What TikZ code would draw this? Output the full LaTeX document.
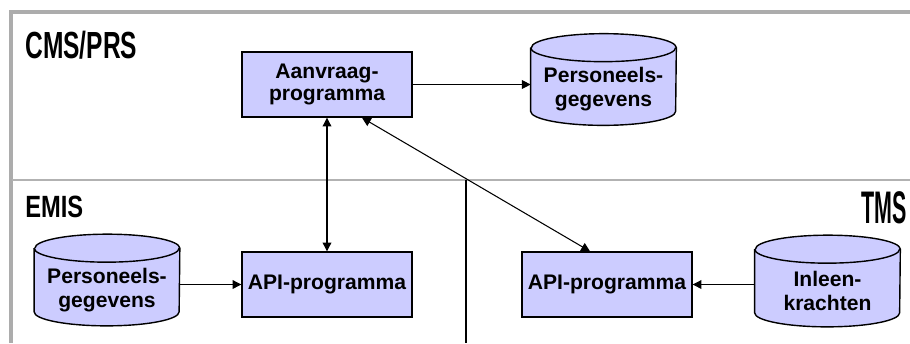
\documentclass[tikz,border=0pt]{standalone}
\usepackage{fontspec}
\setmainfont{Liberation Sans}
\usepackage{graphicx}
\usetikzlibrary{arrows.meta,backgrounds}
\definecolor{lila}{RGB}{204,204,255}
\newcommand{\smal}[2]{\scalebox{#1}[1]{#2}}
\newcommand{\zylinder}[1]{%
  \filldraw [fill=lila, line width=0.8pt] ([yshift=-0.28cm]#1.north west) -- ([yshift=0.68cm]#1.south west)
    arc [start angle=180, end angle=360, x radius=1.45cm, y radius=0.28cm]
    -- ([yshift=-0.28cm]#1.north east)
    arc [start angle=0, end angle=180, x radius=1.45cm, y radius=0.28cm];
  \draw [line width=0.8pt] ([yshift=-0.28cm]#1.north west)
    arc [start angle=180, end angle=360, x radius=1.45cm, y radius=0.28cm];}

\begin{document}
\begin{tikzpicture}[x=0.02cm, y=-0.02cm, >={Triangle[length=5pt,width=5pt]},
         prog/.style={draw, line width=0.8pt, fill=lila, minimum width=3.4cm, minimum height=1.3cm,
           inner sep=0pt, align=center, font=\bfseries\fontsize{12}{12.5}\selectfont},
         data/.style={minimum width=2.9cm, minimum height=2.22cm, inner sep=0pt, align=center,
           font=\bfseries\fontsize{12}{13.7}\selectfont},
         area/.style={anchor=base west, inner sep=0pt}]
         \useasboundingbox (0,0) rectangle (910,343);
         \draw [gray!65, line width=2.2pt] (11,343) -- (11,12) -- (910,12);
         \draw [gray!60, line width=0.7pt] (12,180) -- (910,180);
         \draw [line width=0.6pt] (466,180) -- (466,343);
         \node [area, font=\bfseries\fontsize{21.5}{24}\selectfont] (CMS) at (25,58) {\smal{0.65}{CMS/PRS}};
         \node [area, font=\bfseries\fontsize{17.5}{20}\selectfont] (EMIS) at (25,217) {\smal{0.77}{EMIS}};
         \node [area, anchor=base east, font=\bfseries\fontsize{26}{28}\selectfont] (TMS) at (907,223) {\smal{0.47}{TMS}};
         \node [prog] (AP) at (327,84.5) {Aanvraag-\\programma};
         \node [data] (PGC) at (603.5,89.5) {Personeels-\\gegevens};
         \node [data] (PGE) at (107,290) {Personeels-\\gegevens};
         \node [prog] (APE) at (327,284.5) {API-programma};
         \node [prog] (APT) at (607,284.5) {API-programma};
         \node [data] (INL) at (827.5,291) {Inleen-\\krachten};
         \begin{scope}[on background layer]
           \zylinder{PGC}
           \zylinder{PGE}
           \zylinder{INL}
         \end{scope}
         \draw [->, line width=0.6pt] (AP.east) -- (AP.east -| PGC.west);
         \draw [<->, line width=0.6pt] (AP.south) -- (APE.north);
         \draw [<->, line width=0.6pt] ([xshift=0.7cm]AP.south) -- ([xshift=-0.34cm]APT.north);
         \draw [->, line width=0.6pt] (PGE.east |- APE.west) -- (APE.west);
         \draw [->, line width=0.6pt] (INL.west |- APT.east) -- (APT.east);
\end{tikzpicture}
\end{document}
